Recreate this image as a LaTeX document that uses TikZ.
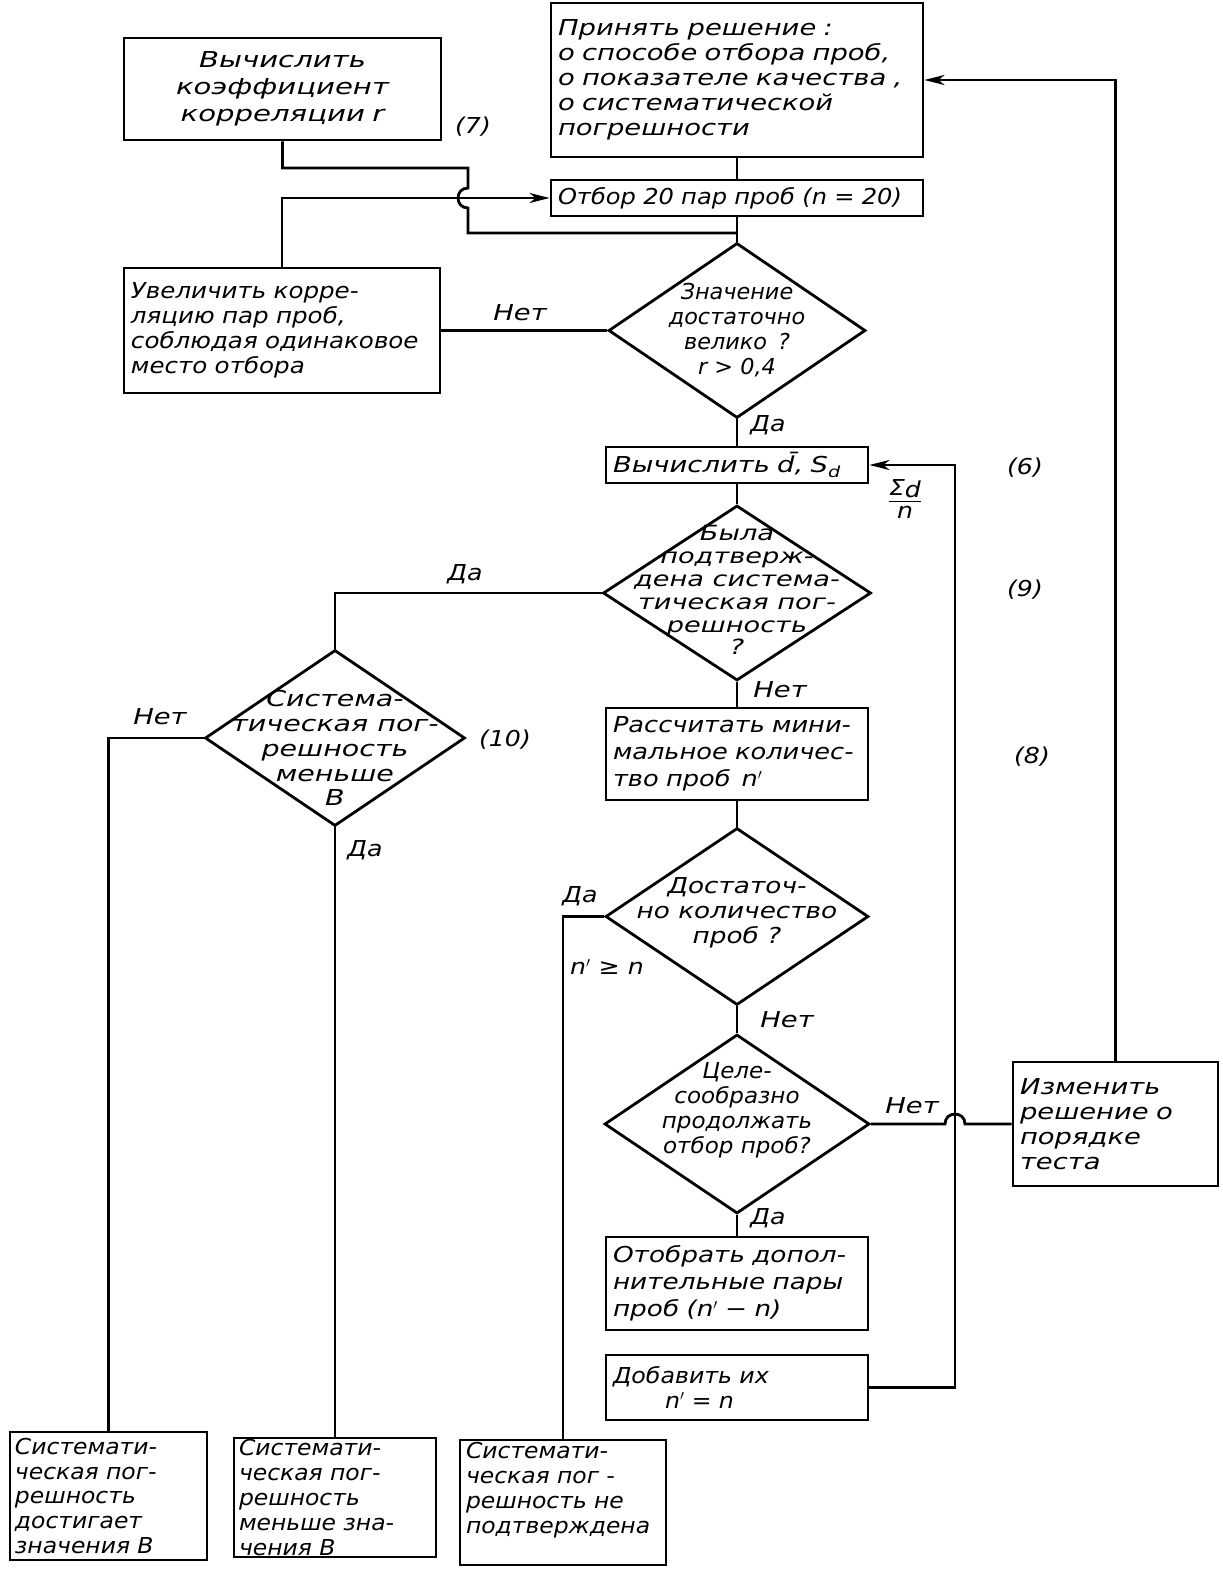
\documentclass[tikz,border=0pt]{standalone}
\usepackage{fontspec}
\setmainfont{DejaVu Sans}[ItalicFont={DejaVu Sans Oblique}]
\usetikzlibrary{shapes.geometric,arrows.meta}
\newcommand\gostst[1]{\fontsize{22}{25}\selectfont\itshape\addfontfeatures{FakeStretch=#1}}
\begin{document}
\begin{tikzpicture}[x=1bp,y=-1bp,
  every node/.style={font=\gostst{1}},
  st/.style={font=\gostst{#1}},
  box/.style={draw, line width=2.8bp, inner xsep=7bp, inner ysep=0bp, align=left},
  dia/.style={draw, diamond, line width=2.8bp, inner sep=0pt},
  dtxt/.style={align=center, inner sep=0pt},
  lbl/.style={inner sep=1bp},
  ln/.style={line width=2.8bp},
  arr/.style={ln, -{Stealth[length=20bp,width=10bp,inset=6bp]}}]
\useasboundingbox (0,0) rectangle (1222,1569);
% boxes
\node[box, st=1.33, align=center, minimum width=317bp, minimum height=102bp, text width=303bp] (A) at (282.5,89) {Вычислить\\[2pt]коэффициент\\[2pt]корреляции r};
\node[box, st=1.25, minimum width=372bp, minimum height=154bp, text width=358bp] (B) at (737,80) {Принять решение :\\о способе отбора проб,\\о показателе качества ,\\о систематической\\погрешности};
\node[box, st=1.1, minimum width=372bp, minimum height=36bp, text width=358bp] (C) at (737,198) {Отбор 20 пар проб (n = 20)};
\node[box, st=1.12, minimum width=316bp, minimum height=125bp, text width=302bp] (D) at (282,330.5) {Увеличить корре-\\ляцию пар проб,\\соблюдая одинаковое\\место отбора};
\node[box, st=1.25, minimum width=262bp, minimum height=36bp, text width=248bp] (E) at (737,465) {Вычислить d̄, S\textsubscript{d}};
\node[box, st=1.17, minimum width=262bp, minimum height=92bp, text width=248bp] (F) at (737,754) {Рассчитать мини-\\[2pt]мальное количес-\\[2pt]тво проб\enspace n$'$};
\node[box, st=1.2, minimum width=262bp, minimum height=93bp, text width=248bp] (G) at (737,1283.5) {Отобрать допол-\\[2pt]нительные пары\\[2pt]проб (n$'$ − n)};
\node[box, st=1.08, minimum width=262bp, minimum height=65bp, text width=248bp] (H) at (737,1387.5) {Добавить их\\\hspace*{52bp}n$'$ = n};
\node[box, st=1.25, minimum width=205bp, minimum height=124bp, text width=191bp] (I) at (1115.5,1124) {Изменить\\решение о\\порядке\\теста};
\node[box, st=1.07, minimum width=197bp, minimum height=128bp, text width=187bp, inner xsep=5bp] (BB1) at (108.5,1496) {Системати-\\ческая пог-\\решность\\достигает\\значения B};
\node[box, st=1.07, minimum width=202bp, minimum height=119bp, text width=192bp, inner xsep=5bp] (BB2) at (335,1497.5) {Системати-\\ческая пог-\\решность\\меньше зна-\\чения B};
\node[box, st=1.07, minimum width=206bp, minimum height=125bp, text width=194bp, inner xsep=6bp, text depth=104bp] (BB3) at (563,1502.5) {Системати-\\ческая пог -\\решность не\\подтверждена};
% diamonds
\node[dia, minimum width=257bp, minimum height=175bp] (D1) at (737,330.5) {};
\node[dtxt, st=1.02] (D1t) at (737,330) {Значение\\достаточно\\велико\enspace ?\\r > 0,4};
\node[dia, minimum width=268bp, minimum height=175bp] (D2) at (737,593) {};
\node[dtxt, font=\fontsize{21}{23}\selectfont\itshape\addfontfeatures{FakeStretch=1.3}] (D2t) at (737,590) {Была\\подтверж-\\дена система-\\тическая пог-\\решность\\?};
\node[dia, minimum width=260bp, minimum height=176bp] (D3) at (335,738) {};
\node[dtxt, st=1.3] (D3t) at (335,748) {Система-\\тическая пог-\\решность\\меньше\\B};
\node[dia, minimum width=263bp, minimum height=177bp] (D4) at (737,916.5) {};
\node[dtxt, st=1.2] (D4t) at (737,913) {Достаточ-\\но количество\\проб ?};
\node[dia, minimum width=265bp, minimum height=179bp] (D5) at (737,1124) {};
\node[dtxt, st=1.05] (D5t) at (737,1110) {Целе-\\сообразно\\продолжать\\отбор проб?};
% labels
\node[lbl, st=1.15] (l7) at (473,127) {(7)};
\node[lbl, st=1.15] (l6) at (1025,468) {(6)};
\node[lbl, st=1.15] (l9) at (1025,590) {(9)};
\node[lbl, st=1.15] (l8) at (1032,757) {(8)};
\node[lbl, st=1.15] (l10) at (505,740) {(10)};
\node[lbl, st=1.25] (n1) at (520,313) {Нет};
\node[lbl, st=1.15] (y1) at (768,425) {Да};
\node[lbl, st=1.15] (y2) at (465,574) {Да};
\node[lbl, st=1.25] (n2) at (780,690) {Нет};
\node[lbl, st=1.25] (n3) at (160,717) {Нет};
\node[lbl, st=1.15] (y3) at (365,850) {Да};
\node[lbl, st=1.15] (y4) at (580,896) {Да};
\node[lbl, st=1.15] (ge) at (607,967) {n$'$ ≥ n};
\node[lbl, st=1.25] (n4) at (787,1020) {Нет};
\node[lbl, st=1.25] (n5) at (912,1106) {Нет};
\node[lbl, st=1.15] (y5) at (768,1218) {Да};
\node[lbl, st=1.15] (sig) at (905,502) {\begin{tabular}{@{}c@{}}Σ\raisebox{-2pt}{d}\\[-2pt]\hline n\end{tabular}};
% connectors
\coordinate (j1) at (737,233);
\coordinate (fb) at (955,465);
\draw[ln] (B.south) -- (C.north);
\draw[ln] (C.south) -- (D1.north);
\draw[ln] (A.south) |- (468,168) -- (468,188) .. controls (454.7,188) and (454.7,208) .. (468,208) |- (j1);
\draw[arr] (D.north) |- (C.west);
\draw[ln] (D1.west) -- (D.east);
\draw[ln] (D1.south) -- (E.north);
\draw[ln] (E.south) -- (D2.north);
\draw[ln] (D2.west) -| (D3.north);
\draw[ln] (D2.south) -- (F.north);
\draw[ln] (F.south) -- (D4.north);
\draw[ln] (D3.west) -| (BB1.north);
\draw[ln] (D3.south) -- (BB2.north);
\draw[ln] (D4.west) -| (BB3.north);
\draw[ln] (D4.south) -- (D5.north);
\draw[ln] (D5.south) -- (G.north);
\draw[ln] (D5.east) -- (945,1124) .. controls (945,1110.7) and (965,1110.7) .. (965,1124) -- (I.west);
\draw[arr] (H.east) -| (fb) -- (E.east);
\draw[arr] (I.north) |- (B.east);
\end{tikzpicture}
\end{document}
